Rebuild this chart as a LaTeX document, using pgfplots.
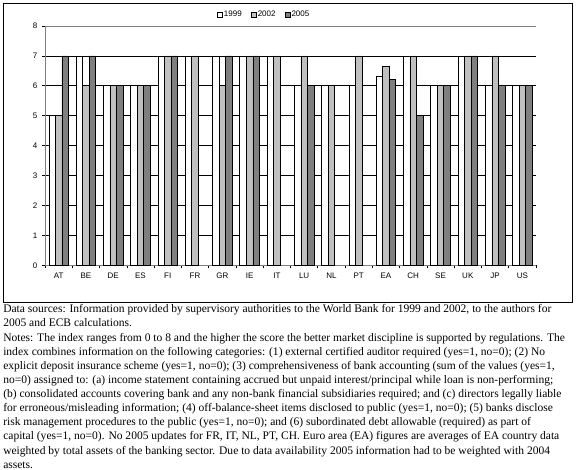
\documentclass[border=0pt]{standalone}
\usepackage{fontspec}
\setmainfont{Liberation Serif}
\newfontfamily\arial{Liberation Sans}
\usepackage{pgfplots}
\pgfplotsset{compat=1.18}
\definecolor{lg}{HTML}{C0C0C0}
\definecolor{dg}{HTML}{7F7F7F}
\begin{document}
\begin{tikzpicture}
\useasboundingbox (0pt,0pt) rectangle (432pt,351.75pt);
\draw[black, line width=0.5pt] (2.25pt,125.25pt) rectangle (429pt,349.5pt);
\begin{axis}[
  at={(33.75pt,152.8pt)}, anchor=south west,
  scale only axis, width=368.25pt, height=179.5pt,
  xmin=-0.5, xmax=17.5, ymin=0, ymax=8,
  ybar=0pt, bar width=4.9pt,
  xtick={0,...,17},
  xticklabels={AT,BE,DE,ES,FI,FR,GR,IE,IT,LU,NL,PT,EA,CH,SE,UK,JP,US},
  major x tick style={draw=none},
  minor xtick={-0.5,0.5,...,17.5},
  ytick={0,...,8},
  tick align=outside,
  major tick length=2.25pt, minor tick length=2.25pt,
  axis x line*=bottom, axis y line*=left,
  axis line style={-, black, line width=0.5pt},
  ymajorgrids, grid style={black, line width=0.45pt},
  tick style={black, line width=0.45pt},
  ticklabel style={font=\arial\fontsize{6}{7}\selectfont},
  /pgf/number format/assume math mode=true,
  legend style={at={(0.446,1.046)}, anchor=center, draw=none, fill=none,
    legend columns=3, font=\arial\fontsize{6}{7}\selectfont,
    /tikz/every even column/.append style={column sep=6pt},
    nodes={inner sep=1pt}},
  legend image code/.code={\draw[#1, line width=0.4pt] (0pt,-1.8pt) rectangle (3.6pt,1.8pt);},
]
\draw[gray, line width=0.5pt] (rel axis cs:0,0) rectangle (rel axis cs:1,1);
\addplot[fill=white, draw=black, line width=0.45pt] coordinates {(0,5)(1,7)(2,6)(3,6)(4,7)(5,7)(6,7)(7,7)(8,7)(9,6)(10,6)(11,6)(12,6.33)(13,7)(14,6)(15,7)(16,6)(17,6)};
\addplot[fill=lg, draw=black, line width=0.45pt] coordinates {(0,5)(1,6)(2,6)(3,6)(4,7)(5,7)(6,6)(7,7)(8,7)(9,7)(10,6)(11,7)(12,6.65)(13,7)(14,6)(15,7)(16,7)(17,6)};
\addplot[fill=dg, draw=black, line width=0.45pt] coordinates {(0,7)(1,7)(2,6)(3,6)(4,7)(6,7)(7,7)(9,6)(12,6.2)(13,5)(14,6)(15,7)(16,6)(17,6)};
\legend{1999,2002,2005}
\end{axis}
\begin{scope}[every node/.style={anchor=base west, inner sep=0pt, font=\fontsize{8.65}{10.6}\selectfont}]
\node at (2.25pt,117.2pt) {Data sources: Information provided by supervisory authorities to the World Bank for 1999 and 2002, to the authors for};
\node at (2.25pt,106.6pt) {2005 and ECB calculations.};
\node at (2.25pt,96.0pt) {Notes: The index ranges from 0 to 8 and the higher the score the better market discipline is supported by regulations. The};
\node at (2.25pt,85.4pt) {index combines information on the following categories: (1) external certified auditor required (yes=1, no=0); (2) No};
\node at (2.25pt,74.8pt) {explicit deposit insurance scheme (yes=1, no=0); (3) comprehensiveness of bank accounting (sum of the values (yes=1,};
\node at (2.25pt,64.2pt) {no=0) assigned to: (a) income statement containing accrued but unpaid interest/principal while loan is non-performing;};
\node at (2.25pt,53.6pt) {(b) consolidated accounts covering bank and any non-bank financial subsidiaries required; and (c) directors legally liable};
\node at (2.25pt,43.0pt) {for erroneous/misleading information; (4) off-balance-sheet items disclosed to public (yes=1, no=0); (5) banks disclose};
\node at (2.25pt,32.4pt) {risk management procedures to the public (yes=1, no=0); and (6) subordinated debt allowable (required) as part of};
\node at (2.25pt,21.8pt) {capital (yes=1, no=0). No 2005 updates for FR, IT, NL, PT, CH. Euro area (EA) figures are averages of EA country data};
\node at (2.25pt,11.2pt) {weighted by total assets of the banking sector. Due to data availability 2005 information had to be weighted with 2004};
\node at (2.25pt,0.7pt) {assets.};
\end{scope}
\end{tikzpicture}
\end{document}
